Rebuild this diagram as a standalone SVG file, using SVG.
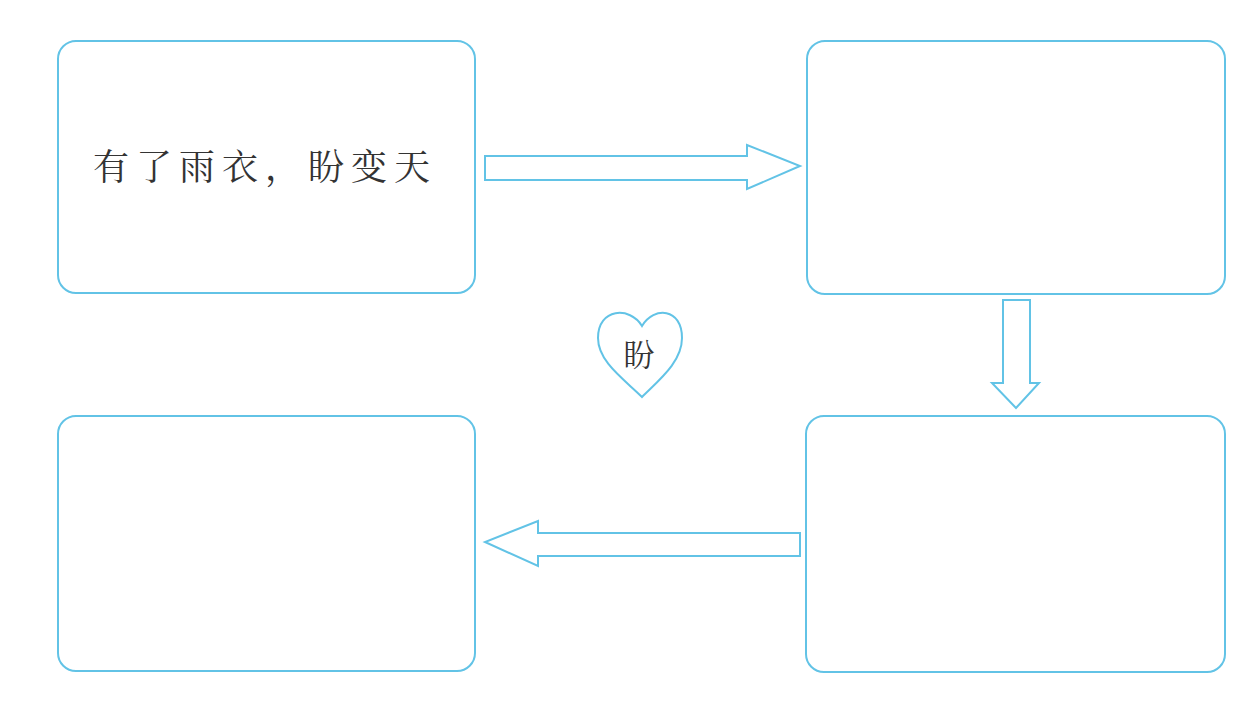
<svg xmlns="http://www.w3.org/2000/svg" width="1260" height="716" viewBox="0 0 1260 716">
<style>
.box{fill:#fff;stroke:#62c3e6;stroke-width:2}
.arr{fill:#fff;stroke:#62c3e6;stroke-width:2;stroke-linejoin:miter}
.t{font-family:"AR PL UKai CN","KaiTi","Noto Serif CJK SC","Noto Sans CJK SC",serif;fill:#333}
</style>
<rect width="1260" height="716" fill="#fff"/>
<g id="node1"><rect class="box" x="58" y="41" width="417" height="252" rx="18"/>
<text class="t" x="93" y="180" font-size="36" letter-spacing="7">有了雨衣，盼变天</text></g>
<g id="node2"><rect class="box" x="807" y="41" width="418" height="253" rx="18"/></g>
<g id="node3"><rect class="box" x="806" y="416" width="419" height="256" rx="18"/></g>
<g id="node4"><rect class="box" x="58" y="416" width="417" height="255" rx="18"/></g>
<g id="heart"><path class="box" d="M642 326 C630 306 598 308 598 338 C598 362 625 380 642 397 C659 380 682 362 682 338 C682 308 654 306 642 326 Z"/>
<text class="t" x="639" y="366" font-size="31" text-anchor="middle">盼</text></g>
<g id="connectors">
<path class="arr" d="M485 156 L747 156 L747 145 L800 166 L747 189 L747 180 L485 180 Z"/>
<path class="arr" d="M1003 300 L1030 300 L1030 383 L1039 383 L1016 408 L992 383 L1003 383 Z"/>
<path class="arr" d="M800 533 L538 533 L538 521 L485 542 L538 566 L538 556 L800 556 Z"/>
</g>
</svg>
